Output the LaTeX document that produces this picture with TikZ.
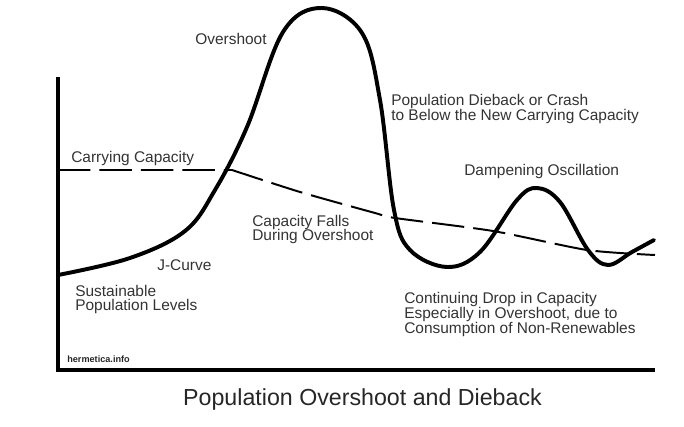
\documentclass[tikz,border=0pt]{standalone}
\usepackage{fontspec}
\setmainfont{Liberation Sans}
\usetikzlibrary{positioning}

\begin{document}
\begin{tikzpicture}[
  x=0.025cm, y=-0.025cm,
  axis/.style={line width=2.4pt, black, line join=miter},
  popcurve/.style={line width=2.8pt, black, line cap=round, line join=round},
  capline/.style={line width=1.4pt, black, dash pattern=on 23pt off 6.5pt},
  lbl/.style={font=\fontsize{11}{10.4}\selectfont, text=black!80,
              align=left, inner sep=0pt, anchor=west},
  title/.style={font=\fontsize{16.5}{18}\selectfont, text=black!85, inner sep=0pt},
  credit/.style={font=\bfseries\fontsize{6.5}{7}\selectfont, text=black!85,
                 inner sep=0pt, anchor=west}
]
\useasboundingbox (0,0) rectangle (684,427);

% axes
\draw[axis] (58,77) -- (58,370) -- (655,370);

% carrying capacity
\draw[capline] (58,170) -- (232,170)
  plot[smooth, tension=0.4] coordinates {(232,170) (300,192) (375,213)
    (395,218) (493,231) (587,250) (655,255)};

% population
\draw[popcurve] plot[smooth, tension=0.6] coordinates {
  (58,275) (130,258) (185,231) (215,190) (247,127) (283,32) (322,8)
  (362,33) (380,100) (394,210) (410,250) (447,267) (480,252) (517,200)
  (537,188) (560,202) (588,250) (608,265) (632,252) (654,240)};

% labels
\node[lbl] (over) at (195,39) {Overshoot};
\node[lbl] (cap) at (71,158) {Carrying Capacity};
\node[lbl] (crash) at (391,109) {Population Dieback or Crash\\to Below the New Carrying Capacity};
\node[lbl] (damp) at (464,172) {Dampening Oscillation};
\node[lbl] (falls) at (252,229.5) {Capacity Falls\\During Overshoot};
\node[lbl] (jcurve) at (157,265) {J-Curve};
\node[lbl] (sust) at (75,299.5) {Sustainable\\Population Levels};
\node[lbl] (drop) at (404,314.5) {Continuing Drop in Capacity\\Especially in Overshoot, due to\\Consumption of Non-Renewables};
\node[credit] (site) at (67,359) {hermetica.info};
\node[title] (head) at (362.5,399) {Population Overshoot and Dieback};

\end{tikzpicture}
\end{document}
